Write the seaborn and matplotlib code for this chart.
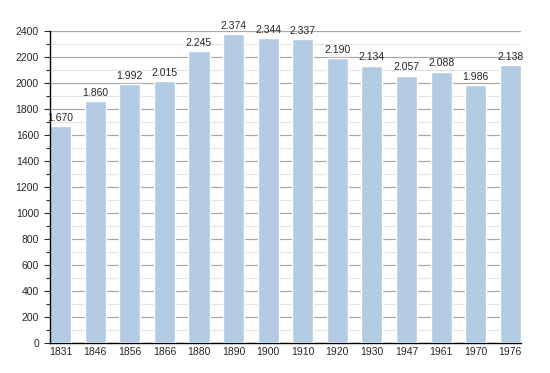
import matplotlib
matplotlib.use("Agg")
import matplotlib.pyplot as plt
import seaborn as sns
import pandas as pd
from matplotlib.ticker import MultipleLocator

# data
years = ["1831", "1846", "1856", "1866", "1880", "1890", "1900",
         "1910", "1920", "1930", "1947", "1961", "1970", "1976"]
population = [1670, 1860, 1992, 2015, 2245, 2374, 2344,
              2337, 2190, 2134, 2057, 2088, 1986, 2138]

df = pd.DataFrame({"year": years, "pop": population})

sns.set_style("white")
plt.rcParams["font.family"] = ["Liberation Sans", "DejaVu Sans"]

fig = plt.figure(figsize=(5.5, 3.73), dpi=100)
ax = fig.add_axes([0.091, 0.080, 0.856, 0.837])

BAR_W = 0.61
sns.barplot(data=df, x="year", y="pop", color="#b3cce4", saturation=1,
            width=BAR_W, ax=ax, zorder=3)

ax.set_ylim(0, 2400)
# bars sit flush against both ends of the axis
ax.set_xlim(-BAR_W / 2, len(years) - 1 + BAR_W / 2)
ax.yaxis.set_major_locator(MultipleLocator(200))
ax.yaxis.set_minor_locator(MultipleLocator(100))
ax.grid(axis="y", which="major", color="#a8a8a8", linewidth=0.9, zorder=0)
ax.grid(axis="y", which="minor", color="#e2e2e2", linewidth=0.8, zorder=0)
ax.set_axisbelow(True)

for s in ["top", "right"]:
    ax.spines[s].set_visible(False)
ax.spines["left"].set_color("black")
ax.spines["bottom"].set_color("black")
ax.spines["left"].set_linewidth(1.0)
ax.spines["bottom"].set_linewidth(1.0)
ax.spines["left"].set_zorder(5)

ax.tick_params(axis="y", which="major", direction="out", length=4, width=0.8,
               labelsize=7.5, left=True, pad=4)
ax.tick_params(axis="y", which="minor", direction="out", length=3, width=0.8, left=True)
ax.tick_params(axis="x", length=0, labelsize=7.5, pad=3)
ax.set_xlabel("")
ax.set_ylabel("")

for i, v in enumerate(population):
    label = f"{v:,}".replace(",", ".")
    ax.text(i, v + 25, label, ha="center", va="bottom", fontsize=7.5, zorder=4)

fig.savefig("out.png", dpi=100)
